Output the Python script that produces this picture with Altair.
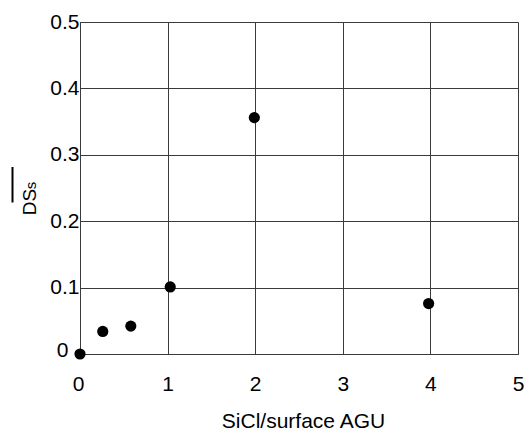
import altair as alt
import pandas as pd

# Data
x_vals = [0.0, 0.26, 0.58, 1.03, 1.99, 3.98]
y_vals = [0.0, 0.034, 0.042, 0.101, 0.356, 0.076]
x_ticks = [0, 1, 2, 3, 4, 5]
y_ticks = [0, 0.1, 0.2, 0.3, 0.4, 0.5]

df = pd.DataFrame({"x": x_vals, "y": y_vals})

FONT = "Liberation Sans"
GRID = "#3a3a3a"

points = alt.Chart(df).mark_circle(size=125, color="black", opacity=1, clip=False).encode(
    x=alt.X(
        "x:Q",
        scale=alt.Scale(domain=[0, 5], nice=False, zero=False),
        axis=alt.Axis(
            values=x_ticks,
            ticks=False,
            grid=True,
            gridColor=GRID,
            gridWidth=1,
            domainColor=GRID,
            labelFont=FONT,
            labelFontSize=21,
            labelColor="black",
            labelPadding=19,
            labelFlush=False,
            labelOffset={"condition": {"test": "datum.value == 0", "value": -2}, "value": 0},
            title="SiCl/surface AGU",
            titleFont=FONT,
            titleFontSize=21,
            titleFontWeight="normal",
            titleColor="black",
            titleX=223,
            titleY=73,
            titleAlign="center",
            titleBaseline="alphabetic",
        ),
    ),
    y=alt.Y(
        "y:Q",
        scale=alt.Scale(domain=[0, 0.5], nice=False, zero=False),
        axis=alt.Axis(
            values=y_ticks,
            ticks=False,
            grid=True,
            gridColor=GRID,
            gridWidth=1,
            domainColor=GRID,
            labelFont=FONT,
            labelFontSize=21,
            labelColor="black",
            labelPadding={"condition": {"test": "datum.value == 0", "value": 12}, "value": 1},
            labelOffset={"condition": {"test": "datum.value == 0", "value": -4}, "value": 0},
            labelFlush=False,
            labelExpr="datum.value == 0 ? '0' : format(datum.value, '.1f')",
            title=None,
        ),
    ),
)

# y-axis title: overlined "DS" with subscript "s"
title_main = alt.Chart(pd.DataFrame({"t": ["DS"]})).mark_text(
    angle=270, align="center", baseline="alphabetic", font=FONT, fontSize=19, color="black"
).encode(x=alt.value(-44.5), y=alt.value(180), text="t:N")

title_sub = alt.Chart(pd.DataFrame({"t": ["s"]})).mark_text(
    angle=270, align="center", baseline="alphabetic", font=FONT, fontSize=15, color="black"
).encode(x=alt.value(-44), y=alt.value(163.5), text="t:N")

overline = alt.Chart(pd.DataFrame({"a": [0]})).mark_rule(
    color="black", strokeWidth=2, clip=False
).encode(x=alt.value(-67.5), y=alt.value(145), y2=alt.value(180.5))

chart = alt.layer(points, title_main, title_sub, overline).properties(
    width=438,
    height=332,
    autosize=alt.AutoSizeParams(type="none"),
    padding={"left": 80, "top": 22, "right": 6, "bottom": 78},
).configure_view(stroke=GRID, strokeWidth=1).configure(background="white")

chart.save("out.html", embed_options={"renderer": "svg", "actions": False})
